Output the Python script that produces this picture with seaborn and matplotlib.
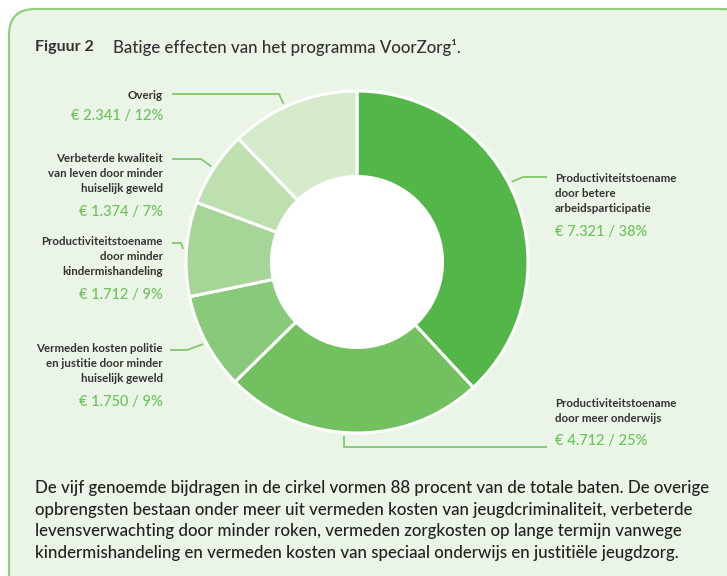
import seaborn as sns
import matplotlib.pyplot as plt
import numpy as np
from matplotlib.patches import FancyBboxPatch, Circle

# data, clockwise from 12 o'clock
categorieen = [
    "Productiviteitstoename\ndoor betere\narbeidsparticipatie",
    "Productiviteitstoename\ndoor meer onderwijs",
    "Vermeden kosten politie\nen justitie door minder\nhuiselijk geweld",
    "Productiviteitstoename\ndoor minder\nkindermishandeling",
    "Verbeterde kwaliteit\nvan leven door minder\nhuiselijk geweld",
    "Overig",
]
bedragen = [7321, 4712, 1750, 1712, 1374, 2341]
percentages = [38, 25, 9, 9, 7, 12]

titel_nr = "Figuur 2"
titel = "Batige effecten van het programma VoorZorg\u00b9."
toelichting = [
    "De vijf genoemde bijdragen in de cirkel vormen 88 procent van de totale baten. De overige",
    "opbrengsten bestaan onder meer uit vermeden kosten van jeugdcriminaliteit, verbeterde",
    "levensverwachting door minder roken, vermeden zorgkosten op lange termijn vanwege",
    "kindermishandeling en vermeden kosten van speciaal onderwijs en justiti\u00eble jeugdzorg.",
]

kleuren = ["#52b748", "#72c05f", "#88c97a", "#a5d597", "#bedfae", "#d4eacb"]
groen_tekst = "#6cc25a"
donker = "#333333"

sns.set_theme(style="white")
plt.rcParams["font.family"] = ["Lato", "DejaVu Sans"]

W, H = 727, 576
fig = plt.figure(figsize=(W / 100, H / 100), dpi=100)
fig.patch.set_facecolor("white")

# background axes in pixel coordinates
bg = fig.add_axes([0, 0, 1, 1])
bg.set_xlim(0, W)
bg.set_ylim(H, 0)
bg.axis("off")
bg.add_patch(FancyBboxPatch((9, 9), 740, 600, boxstyle="round,pad=0,rounding_size=26",
                            facecolor="#eaf4e7", edgecolor="#8fd07f", linewidth=1.6))

# donut
cx, cy, R = 357, 262, 171
pie_ax = fig.add_axes([(cx - R) / W, (H - cy - R) / H, 2 * R / W, 2 * R / H])
pie_ax.set_facecolor("none")
wedges, _ = pie_ax.pie(bedragen, colors=kleuren, startangle=90, counterclock=False,
                       radius=1, wedgeprops=dict(width=0.5, edgecolor="white", linewidth=2.2))
pie_ax.add_patch(Circle((0, 0), 0.5, facecolor="white", edgecolor="none", zorder=0))
pie_ax.set_xlim(-1, 1)
pie_ax.set_ylim(-1, 1)
pie_ax.axis("off")


def anker(w, r=1.02, shift=0):
    a = np.deg2rad((w.theta1 + w.theta2) / 2 + shift)
    return cx + R * r * np.cos(a), cy - R * r * np.sin(a)


# label layout: text position, alignment, leader elbow points (pixels)
layout = [
    dict(x=555, y=180, ha="left", pad=[(523, 177), (547, 177)], shift=6, start=True),
    dict(x=555, y=405, ha="left", pad="down", shift=-3, start=True),
    dict(x=163, y=350, ha="right", pad=[(170, 350), (187, 350)], shift=0, start=False),
    dict(x=163, y=243, ha="right", pad=[(172, 243), (181, 243)], shift=0, start=False),
    dict(x=163, y=160, ha="right", pad=[(172, 159), (201, 159)], shift=0, start=False),
    dict(x=163, y=97, ha="right", pad=[(172, 94), (279, 94)], shift=3, start=False),
]

for w, cat, b, p, lo in zip(wedges, categorieen, bedragen, percentages, layout):
    n = cat.count("\n") + 1
    bg.text(lo["x"], lo["y"] - 7, cat, ha=lo["ha"], va="top", fontsize=8.3,
            fontweight="bold", color=donker, linespacing=1.42, multialignment=lo["ha"])
    waarde = "\u20ac " + f"{b:,}".replace(",", ".") + f" / {p}%"
    bg.text(lo["x"], lo["y"] + 16.5 * (n - 1) + 19, waarde, ha=lo["ha"], va="center",
            fontsize=10.5, fontweight="medium", color=groen_tekst)
    ax_, ay_ = anker(w, shift=lo["shift"])
    if lo["pad"] == "down":
        pts = [(ax_, ay_), (ax_, 447), (547, 447)]
    elif lo["start"]:
        pts = [(ax_, ay_)] + lo["pad"]
    else:
        pts = lo["pad"] + [(ax_, ay_)]
    xs, ys = zip(*pts)
    bg.plot(xs, ys, color="#7fcb6c", linewidth=1.3, solid_capstyle="butt")

bg.text(35, 47, titel_nr, ha="left", va="center", fontsize=11.5, fontweight="bold", color=donker)
bg.text(113, 47, titel, ha="left", va="center", fontsize=12.2, fontweight="medium", color=donker)

for i, regel in enumerate(toelichting):
    bg.text(35, 488 + 21.6 * i, regel, ha="left", va="center", fontsize=12.2,
            fontweight="medium", color="#222222")

fig.savefig("out.png", dpi=100)
